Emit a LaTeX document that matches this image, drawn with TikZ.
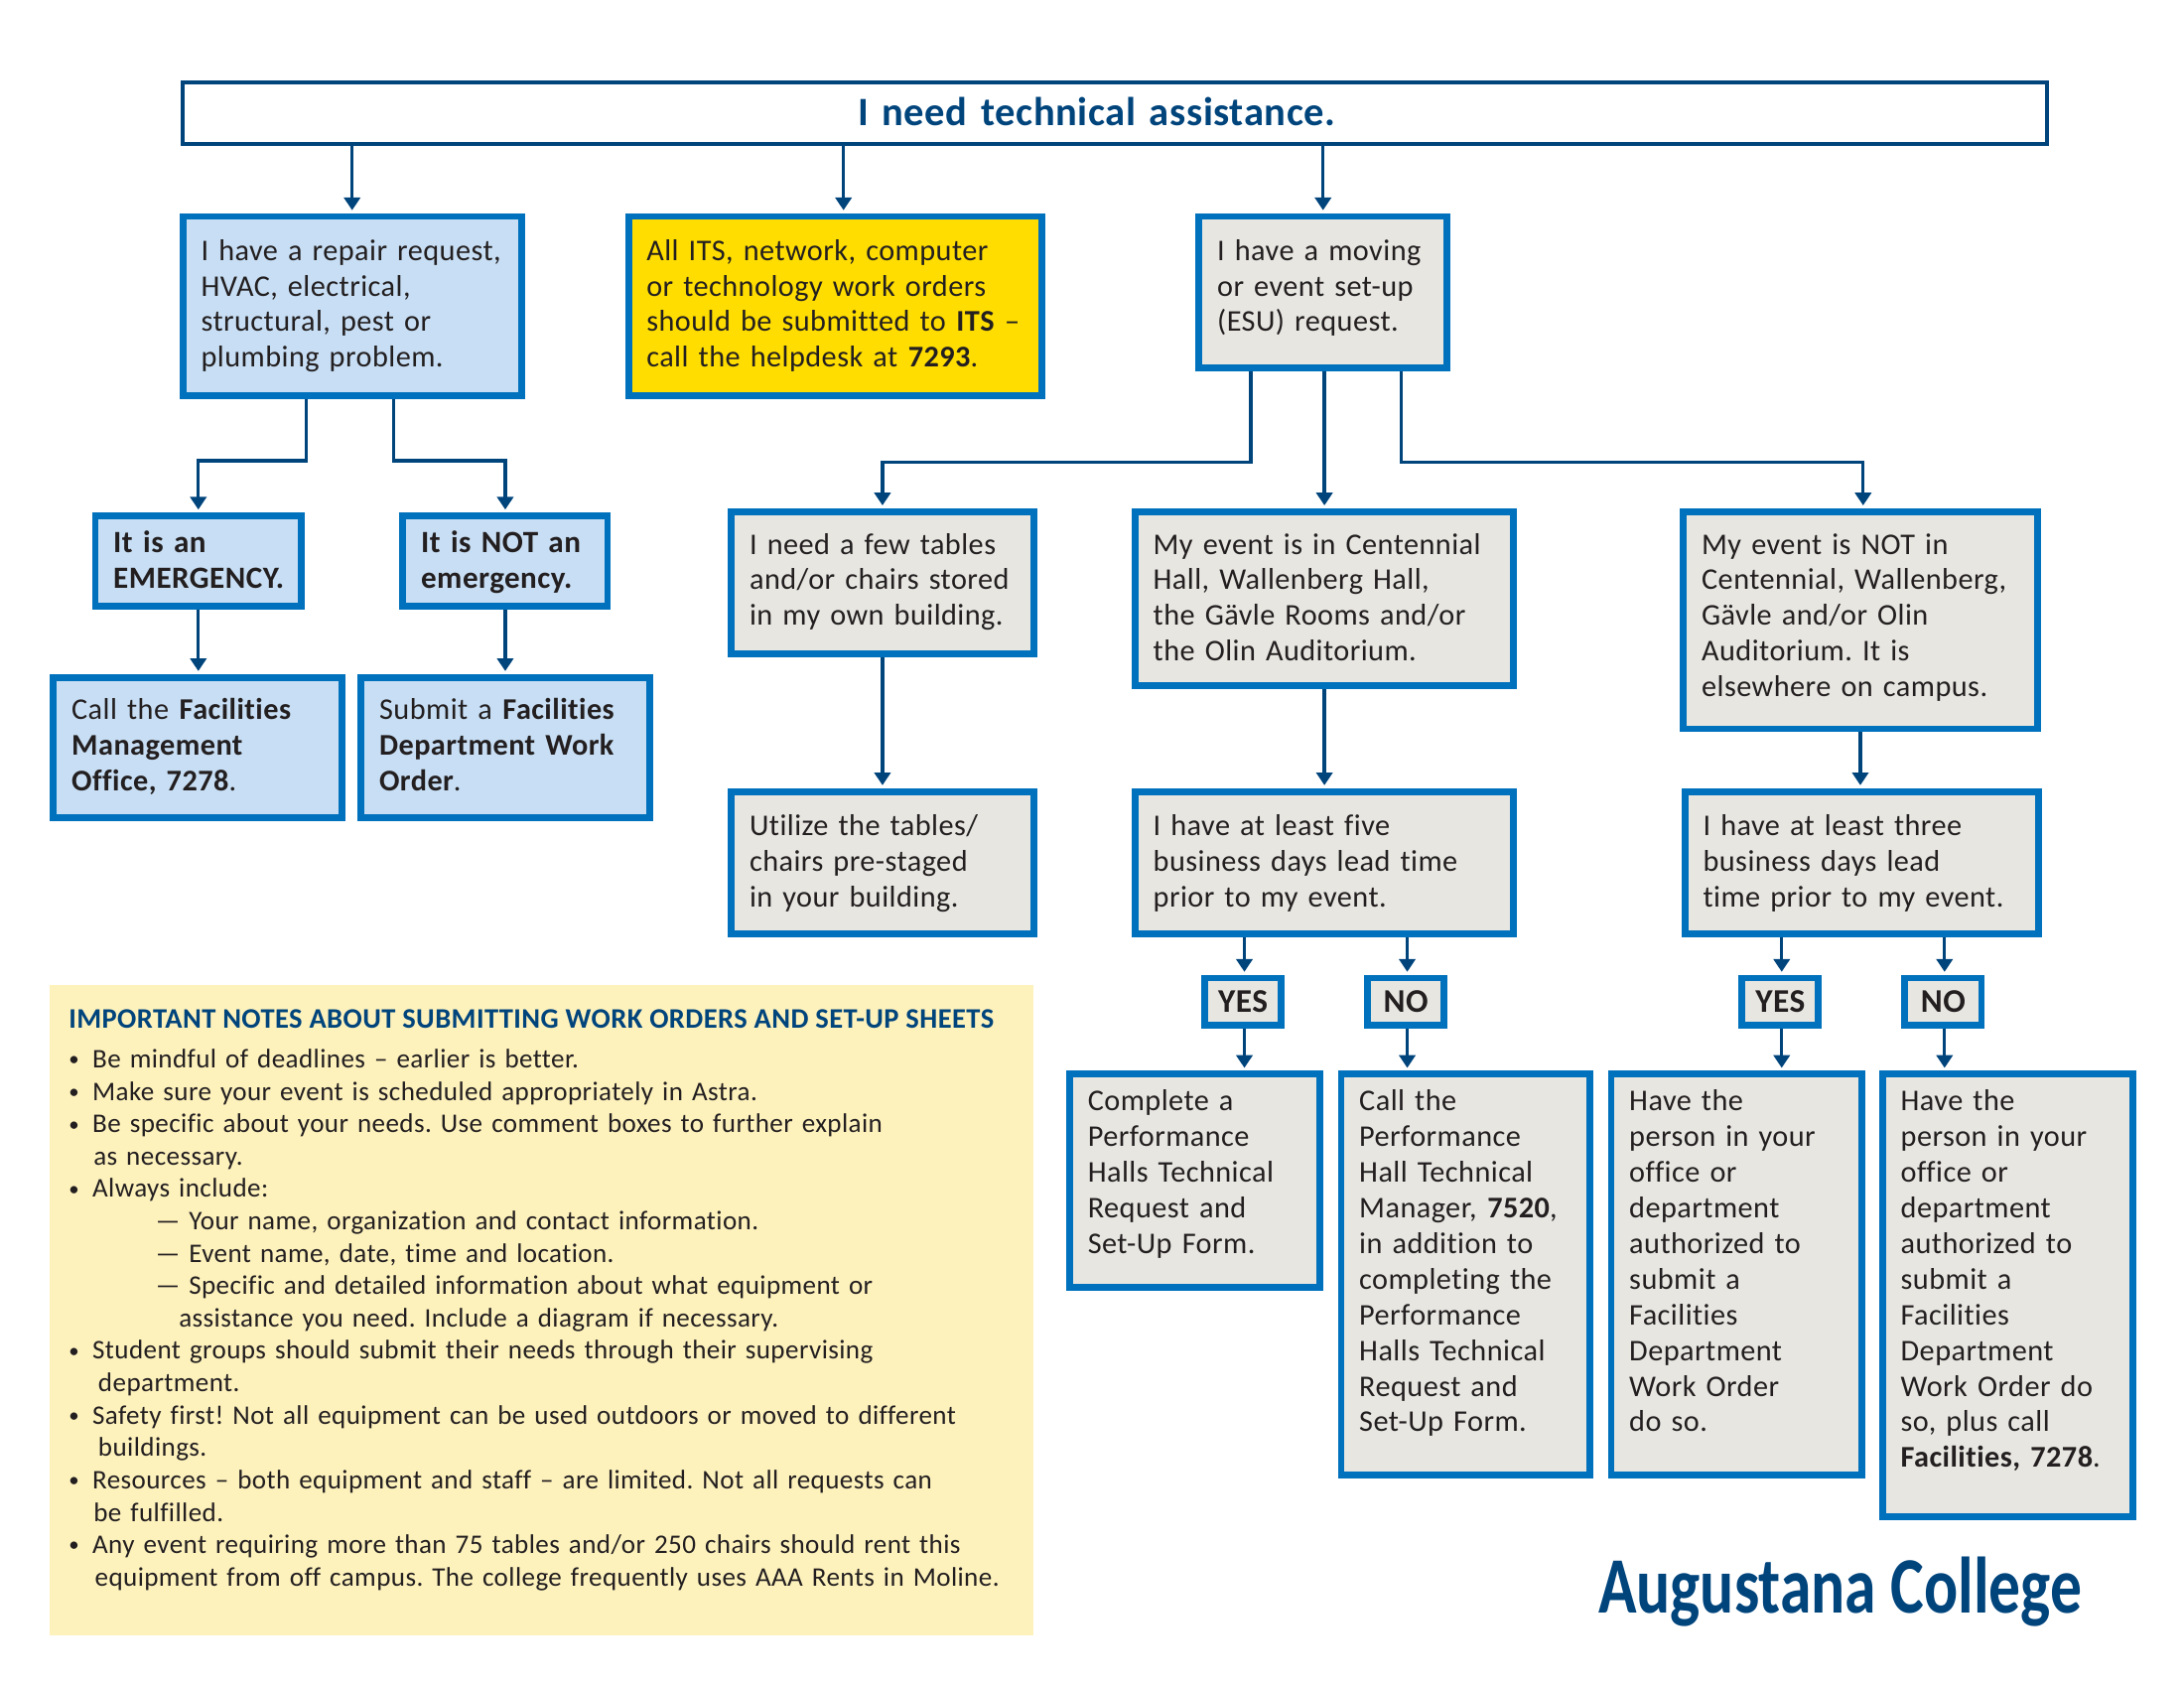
\documentclass[tikz,border=0pt]{standalone}
\usepackage{fontspec}
\setmainfont[LetterSpace=1.5,Ligatures=NoCommon]{Carlito}
\newfontfamily\plainfont{Carlito}
\usetikzlibrary{arrows.meta}
\definecolor{linkblue}{HTML}{00447C}
\definecolor{edgeblue}{HTML}{0071BC}
\definecolor{paleblue}{HTML}{C7DEF4}
\definecolor{palegrey}{HTML}{E7E6E1}
\definecolor{signyellow}{HTML}{FFDD00}
\definecolor{notesyellow}{HTML}{FDF1BC}
\definecolor{inkblack}{HTML}{231F20}
\def\ux{0.5048pt}
\newcommand{\bul}{\makebox[8.6pt][l]{\raisebox{.6pt}{\fontsize{7.5}{8}\selectfont\textbullet}}}
\AtBeginDocument{\frenchspacing}
\tikzset{
	boxsize/.style n args={3}{minimum width=(#1+2)*\ux,text width=(#1-24)*\ux,
		minimum height=(#2+2)*\ux,text height=#3*\ux,text depth=(#2+2-#3)*\ux},
	flowbox/.style={draw=edgeblue,line width=2.5pt,anchor=north west,align=left,
		inner xsep=4.2pt,inner ysep=0pt,text=inkblack,
		font=\fontsize{10.9}{12.92}\selectfont},
	bluebox/.style={flowbox,fill=paleblue},
	greybox/.style={flowbox,fill=palegrey},
	yellowbox/.style={flowbox,fill=signyellow},
	answerbox/.style={draw=edgeblue,line width=2.5pt,fill=palegrey,anchor=north west,
		minimum width=55*\ux,minimum height=34*\ux,inner sep=0pt,text=inkblack,
		font=\fontsize{12}{13}\selectfont\bfseries},
	flow/.style={draw=linkblue,line width=1.2pt,shorten >=1pt,
		-{Triangle[length=4.6pt,width=5.8pt]}},
}
\begin{document}
\begin{tikzpicture}[x=\ux,y=-\ux]
	\useasboundingbox (0,0) rectangle (1569,1212.4);
	% top of the chart
	\node[draw=linkblue,line width=1.5pt,anchor=north west,boxsize={1337}{42}{30.5},inner xsep=5.5pt,inner ysep=0pt,
		align=left,text=linkblue,font=\fontsize{14.6}{16}\selectfont\bfseries] (need) at (130,58)
		{\hspace*{238.2pt}I need technical assistance.};
	% first row
	\node[bluebox,boxsize={241}{127}{31.5}] (repair) at (129,153)
		{I have a repair request,\\HVAC, electrical,\\structural, pest or\\plumbing problem.};
	\node[yellowbox,boxsize={295}{127}{31.5}] (its) at (449,153)
		{All ITS, network, computer\\or technology work orders\\should be submitted to \textbf{ITS} –\\call the helpdesk at \textbf{7293}.};
	\node[greybox,boxsize={176}{107}{31.5}] (esu) at (859,153)
		{I have a moving\\or event set-up\\(ESU) request.};
	% repair branch
	\node[bluebox,boxsize={146}{63}{26.5},font=\fontsize{11.2}{12.92}\selectfont\bfseries] (emergency) at (66,368)
		{It is an\\EMERGENCY.};
	\node[bluebox,boxsize={145}{63}{26.5},font=\fontsize{11.2}{12.92}\selectfont\bfseries] (notemergency) at (287,368)
		{It is NOT an\\emergency.};
	\node[bluebox,boxsize={205}{99}{30.5},inner xsep=6.5pt] (callfm) at (36,484)
		{Call the \textbf{Facilities}\\\textbf{Management}\\\textbf{Office, 7278}.};
	\node[bluebox,boxsize={205}{99}{30.5},inner xsep=5.2pt] (submit) at (257,484)
		{Submit a \textbf{Facilities}\\\textbf{Department Work}\\\textbf{Order}.};
	% moving and set-up branch
	\node[greybox,boxsize={215}{100}{30.5}] (tables) at (523,365)
		{I need a few tables\\and/or chairs stored\\in my own building.};
	\node[greybox,boxsize={215}{100}{31.5}] (utilize) at (523,566)
		{Utilize the tables/\\chairs pre-staged\\in your building.};
	\node[greybox,boxsize={270}{123}{30.5}] (centennial) at (813,365)
		{My event is in Centennial\\Hall, Wallenberg Hall,\\the Gävle Rooms and/or\\the Olin Auditorium.};
	\node[greybox,boxsize={252}{154}{30.5}] (elsewhere) at (1207,365)
		{My event is NOT in\\Centennial, Wallenberg,\\Gävle and/or Olin\\Auditorium. It is\\elsewhere on campus.};
	\node[greybox,boxsize={270}{100}{31.5}] (fivedays) at (813,566)
		{I have at least five\\business days lead time\\prior to my event.};
	\node[greybox,boxsize={252}{100}{31.5}] (threedays) at (1208,566)
		{I have at least three\\business days lead\\time prior to my event.};
	% answers
	\node[answerbox] (yesfive) at (863,700) {YES};
	\node[answerbox] (nofive) at (980,700) {NO};
	\node[answerbox] (yesthree) at (1249,700) {YES};
	\node[answerbox] (nothree) at (1366,700) {NO};
	\node[greybox,boxsize={178}{151}{26.5},inner xsep=6.5pt] (complete) at (766,769)
		{Complete a\\Performance\\Halls Technical\\Request and\\Set-Up Form.};
	\node[greybox,boxsize={177}{286}{26.5},inner xsep=6.5pt] (callhall) at (961,769)
		{Call the\\Performance\\Hall Technical\\Manager, \textbf{7520},\\in addition to\\completing the\\Performance\\Halls Technical\\Request and\\Set-Up Form.};
	\node[greybox,boxsize={178}{286}{26.5},inner xsep=6.5pt] (authorized) at (1155,769)
		{Have the\\person in your\\office or\\department\\authorized to\\submit a\\Facilities\\Department\\Work Order\\do so.};
	\node[greybox,boxsize={178}{316}{26.5},inner xsep=6.5pt] (authorizedcall) at (1350,769)
		{Have the\\person in your\\office or\\department\\authorized to\\submit a\\Facilities\\Department\\Work Order do\\so, plus call\\\textbf{Facilities, 7278}.};
	% connectors
	\coordinate (itsdrop) at ([xshift=6*\ux]its.north);
	\coordinate (elsewheredrop) at ([xshift=2*\ux]elsewhere.north);
	\draw[flow] (repair.north |- need.south) -- (repair.north);
	\draw[flow] (itsdrop |- need.south) -- (itsdrop);
	\draw[flow] (esu.north |- need.south) -- (esu.north);
	\draw[flow] ([xshift=-33*\ux]repair.south) -- ++(0,44) -| (emergency.north);
	\draw[flow] ([xshift=30*\ux]repair.south) -- ++(0,44) -| (notemergency.north);
	\draw[flow] (emergency.south) -- (callfm.north -| emergency.south);
	\draw[flow] (notemergency.south) -- (submit.north -| notemergency.south);
	\draw[flow] ([xshift=-52*\ux]esu.south) -- ++(0,65) -| (tables.north);
	\draw[flow] (centennial.north |- esu.south) -- (centennial.north);
	\draw[flow] ([xshift=56*\ux]esu.south) -- ++(0,65) -| (elsewheredrop);
	\draw[flow] (tables.south) -- (utilize.north);
	\draw[flow] (centennial.south) -- (fivedays.north);
	\draw[flow] (elsewhere.south) -- (elsewhere.south |- threedays.north);
	\foreach \ask/\ans/\res in {fivedays/yesfive/complete,fivedays/nofive/callhall,threedays/yesthree/authorized,threedays/nothree/authorizedcall}{%
		\coordinate (above) at ([xshift=1*\ux]\ans.north);
		\coordinate (below) at ([xshift=1*\ux]\ans.south);
		\draw[flow] (above |- \ask.south) -- (above);
		\draw[flow] (below) -- (below |- \res.north);
	}
	% notes panel
	\node[fill=notesyellow,anchor=north west,minimum width=707*\ux,minimum height=467*\ux] (notes) at (35,707) {};
	\node[anchor=base west,inner sep=0pt,text=linkblue,font=\fontsize{10.26}{12}\selectfont\bfseries] (notestitle) at (49,738.5)
		{IMPORTANT NOTES ABOUT SUBMITTING WORK ORDERS AND SET-UP SHEETS};
	\node[anchor=base west,inner sep=0pt,text width=690*\ux,align=left,text=inkblack,font=\fontsize{9.75}{11.74}\selectfont] (noteslist) at (49,767) {%
		\bul Be mindful of deadlines – earlier is better.\\
		\bul Make sure your event is scheduled appropriately in Astra.\\
		\bul Be specific about your needs. Use comment boxes to further explain\\
		\hspace*{9pt}as necessary.\\
		\bul Always include:\\
		\hspace*{31.5pt}— Your name, organization and contact information.\\
		\hspace*{31.5pt}— Event name, date, time and location.\\
		\hspace*{31.5pt}— Specific and detailed information about what equipment or\\
		\hspace*{40pt}assistance you need. Include a diagram if necessary.\\
		\bul Student groups should submit their needs through their supervising\\
		\hspace*{10.7pt}department.\\
		\bul Safety first! Not all equipment can be used outdoors or moved to different\\
		\hspace*{10.7pt}buildings.\\
		\bul Resources – both equipment and staff – are limited. Not all requests can\\
		\hspace*{9pt}be fulfilled.\\
		\bul Any event requiring more than 75 tables and/or 250 chairs should rent this\\
		\hspace*{9.5pt}equipment from off campus. The college frequently uses AAA Rents in Moline.};
	% college name
	\node[text=linkblue,inner sep=0pt,font=\fontsize{29}{32}\plainfont\bfseries] (college) at (1322,1143)
		{\scalebox{0.79}[1]{Augustana College}};
\end{tikzpicture}
\end{document}
